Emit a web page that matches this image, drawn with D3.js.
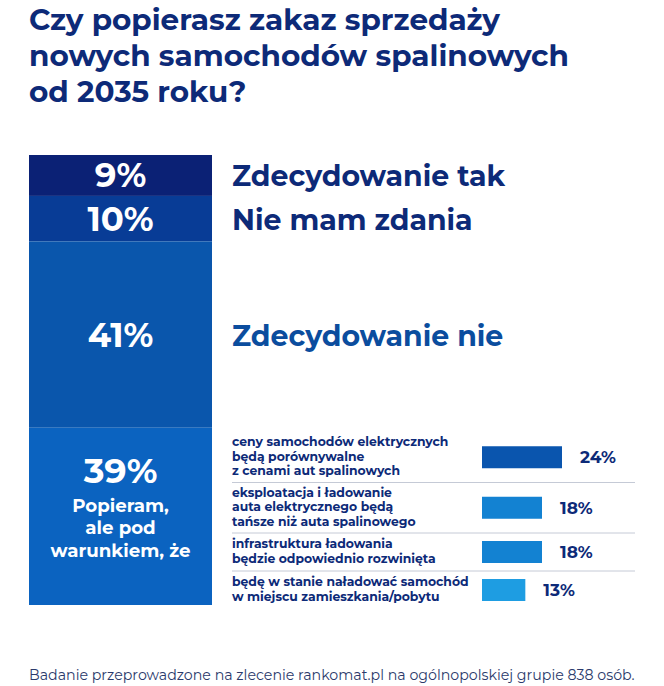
<!DOCTYPE html>
<html>
<head>
<meta charset="utf-8">
<script src="https://cdn.jsdelivr.net/npm/d3@7"></script>
<style>
body{margin:0;background:#fff;}
svg{display:block;}
</style>
</head>
<body>
<svg id="chart" width="664" height="686"></svg>
<script>
var titleLines=["Czy popierasz zakaz sprzedaży","nowych samochodów spalinowych","od 2035 roku?"];
var categories=["Zdecydowanie tak","Nie mam zdania","Zdecydowanie nie","Popieram, ale pod warunkiem, że"];
var values=[9,10,41,39];
var conditions=[["ceny samochodów elektrycznych","będą porównywalne","z cenami aut spalinowych"],["eksploatacja i ładowanie","auta elektrycznego będą","tańsze niż auta spalinowego"],["infrastruktura ładowania","będzie odpowiednio rozwinięta"],["będę w stanie naładować samochód","w miejscu zamieszkania/pobytu"]];
var condValues=[24,18,18,13];
var footer="Badanie przeprowadzone na zlecenie rankomat.pl na ogólnopolskiej grupie 838 osób.";

var segColors=["#0b2175","#083c96","#0a56ac","#0b63c0"];
var condColors=["#0a55ae","#1382d2","#1382d2","#1e9de2"];
var navy="#0d2a78";
var font="Montserrat, 'Open Sans', sans-serif";

var svg=d3.select("#chart");

// title
svg.append("g").selectAll("text").data(titleLines).enter().append("text")
  .attr("x",29).attr("y",(d,i)=>30+i*36)
  .attr("fill",navy).attr("font-family",font).attr("font-weight",700).attr("font-size","29.5px")
  .text(d=>d);

// stacked bar
var total=d3.sum(values);
var y=d3.scaleLinear().domain([0,total]).range([155,605]);
var starts=[];var acc=0;
values.forEach(v=>{starts.push(acc);acc+=v;});
var x0=29,x1=212,cx=(x0+x1)/2;

var seg=svg.append("g");
seg.selectAll("rect").data(values).enter().append("rect")
  .attr("x",x0).attr("width",x1-x0)
  .attr("y",(d,i)=>y(starts[i]))
  .attr("height",(d,i)=>y(starts[i]+d)-y(starts[i]))
  .attr("fill",(d,i)=>segColors[i]);

// percentage labels in first three segments
seg.selectAll("text.p").data(values.slice(0,3)).enter().append("text").attr("class","p")
  .attr("x",cx).attr("y",(d,i)=>(y(starts[i])+y(starts[i]+d))/2+12)
  .attr("text-anchor","middle").attr("fill","#fff")
  .attr("font-family",font).attr("font-weight",700).attr("font-size","34px")
  .text(d=>d+"%");

// labels to the right
var labelColors=[navy,navy,"#0b4d9e"];
svg.append("g").selectAll("text").data(categories.slice(0,3)).enter().append("text")
  .attr("x",232).attr("y",(d,i)=>(y(starts[i])+y(starts[i]+values[i]))/2+11)
  .attr("fill",(d,i)=>labelColors[i])
  .attr("font-family",font).attr("font-weight",700).attr("font-size","28.4px")
  .text(d=>d);

// last segment label
var lastTop=y(starts[3]);
svg.append("text").attr("x",cx).attr("y",lastTop+55)
  .attr("text-anchor","middle").attr("fill","#fff")
  .attr("font-family",font).attr("font-weight",700).attr("font-size","35px")
  .text(values[3]+"%");
var subLines=["Popieram,","ale pod","warunkiem, że"];
svg.append("g").selectAll("text").data(subLines).enter().append("text")
  .attr("x",cx).attr("y",(d,i)=>lastTop+84+i*22.5)
  .attr("text-anchor","middle").attr("fill","#fff")
  .attr("font-family",font).attr("font-weight",700).attr("font-size","18.2px")
  .text(d=>d);

// condition rows
var rowTops=[];var ry=432;
conditions.forEach(c=>{rowTops.push(ry);ry+=c.length*12.5+13;});
rowTops.push(ry);
var xs=d3.scaleLinear().domain([0,24]).range([482,562]);
var rows=svg.append("g");
rows.selectAll("line").data(rowTops.slice(1,conditions.length)).enter().append("line")
  .attr("x1",232).attr("x2",635).attr("y1",d=>d).attr("y2",d=>d)
  .attr("stroke","#c5cad6").attr("stroke-width",1);

conditions.forEach((c,i)=>{
  var mid=(rowTops[i]+rowTops[i+1])/2;
  var g=rows.append("g");
  g.selectAll("text").data(c).enter().append("text")
    .attr("x",232).attr("y",(d,j)=>mid+3.5+(j-(c.length-1)/2)*14.5)
    .attr("fill",navy).attr("font-family",font).attr("font-weight",700).attr("font-size","12.4px")
    .text(d=>d);
  g.append("rect").attr("x",xs(0)).attr("y",mid-11).attr("height",22)
    .attr("width",xs(condValues[i])-xs(0)).attr("fill",condColors[i]);
  g.append("text").attr("x",xs(condValues[i])+18).attr("y",mid+6)
    .attr("fill",navy).attr("font-family",font).attr("font-weight",700).attr("font-size","17px")
    .text(condValues[i]+"%");
});

// footer
svg.append("text").attr("x",29).attr("y",680)
  .attr("fill","#2b3a6b").attr("font-family",font).attr("font-size","14.2px")
  .text(footer);
</script>
</body>
</html>
